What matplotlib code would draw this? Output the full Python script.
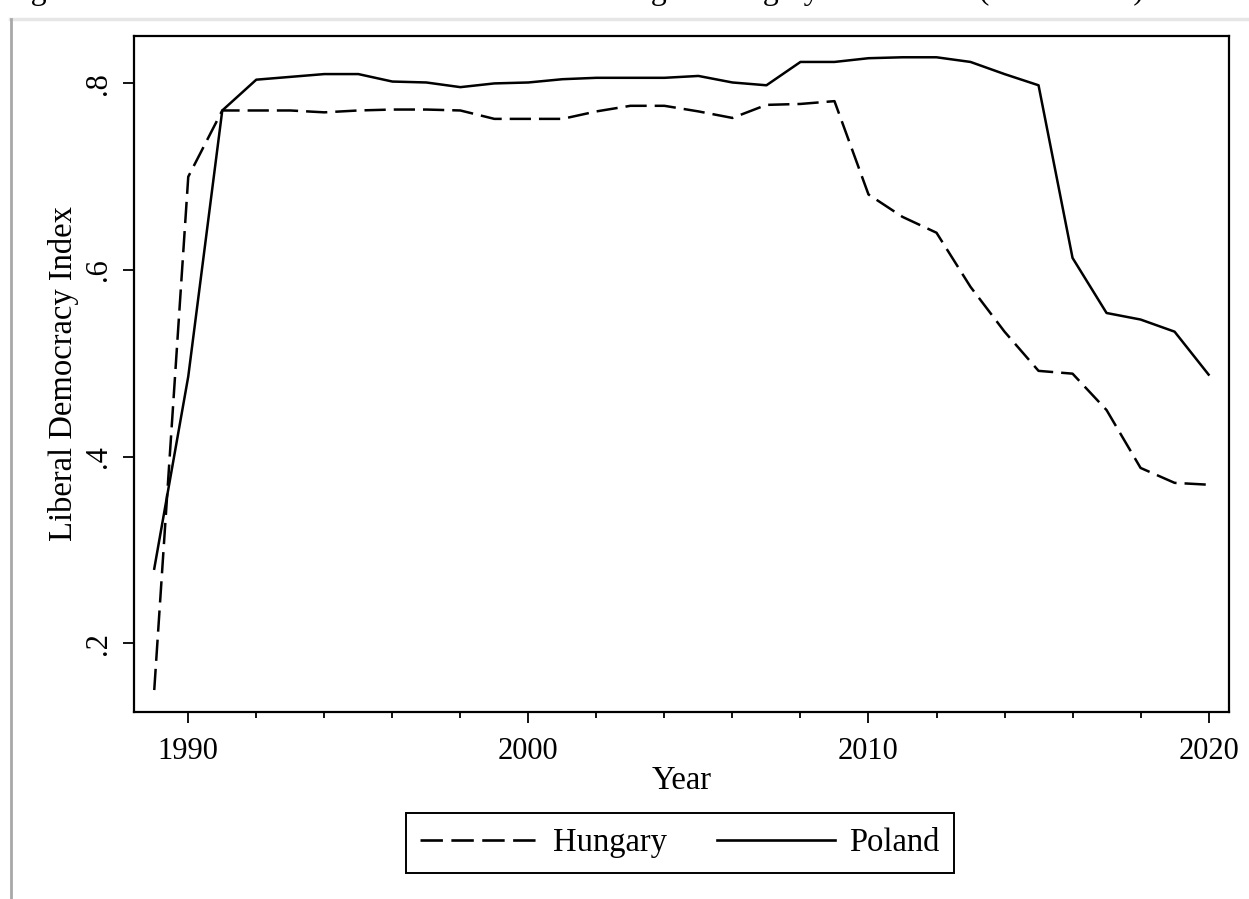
import numpy as np
import matplotlib
matplotlib.use("Agg")
import matplotlib.pyplot as plt
from matplotlib.lines import Line2D

# V-Dem liberal democracy index, 1989-2020
years = list(range(1989, 2021))
hungary = [0.150, 0.700, 0.771, 0.771, 0.771, 0.769, 0.771, 0.772, 0.772, 0.771,
           0.762, 0.762, 0.762, 0.770, 0.776, 0.776, 0.770, 0.763, 0.777, 0.778,
           0.781, 0.681, 0.657, 0.640, 0.582, 0.534, 0.492, 0.489, 0.450, 0.388,
           0.372, 0.370]
poland = [0.280, 0.486, 0.771, 0.804, 0.807, 0.810, 0.810, 0.802, 0.801, 0.796,
          0.800, 0.801, 0.8045, 0.806, 0.806, 0.806, 0.808, 0.801, 0.798, 0.823,
          0.823, 0.827, 0.828, 0.828, 0.823, 0.810, 0.798, 0.613, 0.554, 0.547,
          0.534, 0.488]

year_ticks = [1990, 2000, 2010, 2020]
year_minor = list(range(1990, 2021, 2))
index_ticks = [0.2, 0.4, 0.6, 0.8]
index_labels = [".2", ".4", ".6", ".8"]
caption = "Figure 1: Trends in Liberal Democratic Backsliding in Hungary and Poland (1989\u20132020)"

plt.rcParams["font.family"] = ["Liberation Serif", "DejaVu Serif"]
TICK_FS = 22
LABEL_FS = 23.5

fig = plt.figure(figsize=(12.49, 8.99), dpi=100)
ax = fig.add_axes([133.5 / 1249, 1 - 711.7 / 899, (1229 - 133.5) / 1249, (711.7 - 36) / 899])

ax.plot(years, hungary, color="black", lw=1.8, linestyle=(0, (8.5, 3.2)), label="Hungary")
ax.plot(years, poland, color="black", lw=1.8, linestyle="-", label="Poland")

ax.set_xlim(1988.39, 2020.6)
ax.set_ylim(0.1268, 0.8508)
ax.set_xticks(year_ticks)
ax.set_xticks(year_minor, minor=True)
ax.set_yticks(index_ticks)
ax.set_yticklabels(index_labels)
ax.tick_params(axis="both", which="major", length=8, width=1.3, labelsize=TICK_FS, color="black")
ax.tick_params(axis="x", which="minor", length=4, width=1.3)
ax.tick_params(axis="x", which="major", pad=10)
ax.tick_params(axis="y", which="major", pad=7, labelrotation=90)
for lab in ax.get_yticklabels():
    lab.set_va("center")

for sp in ax.spines.values():
    sp.set_linewidth(1.6)
    sp.set_color("black")

ax.set_xlabel("Year", fontsize=LABEL_FS, labelpad=0)
ax.set_ylabel("Liberal Democracy Index", fontsize=LABEL_FS, labelpad=3)

leg = fig.legend(loc="center", bbox_to_anchor=(680 / 1249, 1 - 843 / 899), ncol=2,
                 fontsize=LABEL_FS, frameon=True, fancybox=False, framealpha=1,
                 edgecolor="black", handlelength=3.6, handletextpad=0.45,
                 columnspacing=1.55, borderpad=0.45)
leg.get_frame().set_linewidth(1.4)
for h in leg.get_lines():
    h.set_linewidth(1.9)

# page frame around the figure
fig.add_artist(Line2D([10 / 1249, 1], [1 - 19 / 899, 1 - 19 / 899], transform=fig.transFigure,
                      color="#e6e6e6", lw=2.5))
fig.add_artist(Line2D([10.5 / 1249, 10.5 / 1249], [0, 1 - 19 / 899], transform=fig.transFigure,
                      color="#a8a8a8", lw=2))

# caption line sits just above the page edge
fig.text(4 / 1249, 1 + 1 / 899, caption, fontsize=23, va="baseline", ha="left")

fig.savefig("out.png", dpi=100)
